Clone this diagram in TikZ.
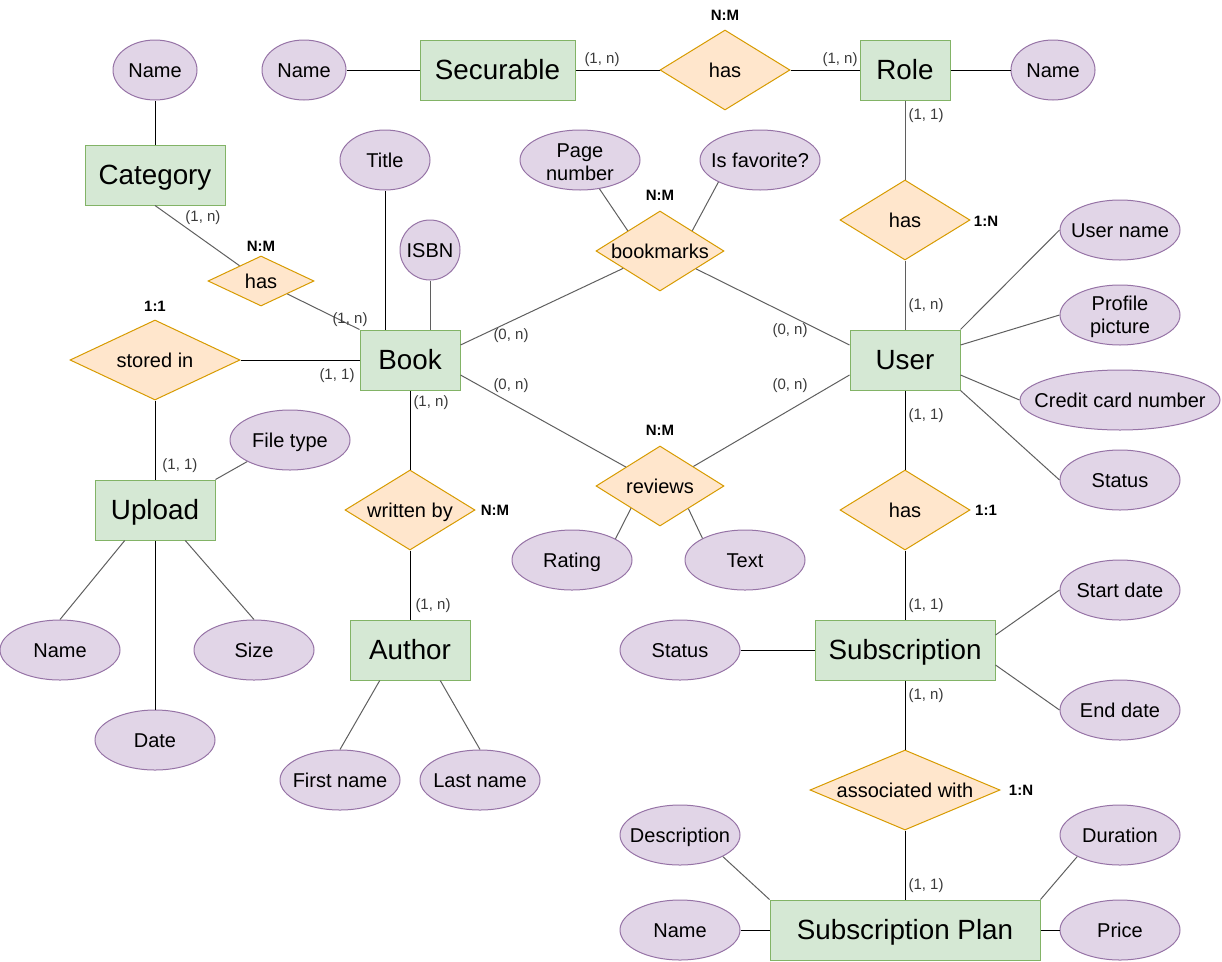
\documentclass[tikz,border=0pt]{standalone}
\usepackage{fontspec}
\setmainfont{Liberation Sans}
\usetikzlibrary{shapes.geometric,calc}
\definecolor{entfill}{HTML}{D5E8D4}
\definecolor{entline}{HTML}{82B366}
\definecolor{relfill}{HTML}{FFE6CC}
\definecolor{relline}{HTML}{D79B00}
\definecolor{attfill}{HTML}{E1D5E7}
\definecolor{attline}{HTML}{9673A6}
\definecolor{greyline}{HTML}{5F5F5F}
\definecolor{cardcol}{HTML}{3A3A3A}
\tikzset{
  ent/.style={rectangle, draw=entline, fill=entfill, line width=1pt, inner sep=0pt,
    minimum height=60pt, font=\fontsize{27.8}{32}\selectfont, text height=19.9pt, text depth=0pt},
  rel/.style={diamond, draw=relline, fill=relfill, line width=1pt, inner sep=0pt,
    minimum height=80pt},
  attr/.style={ellipse, draw=attline, fill=attfill, line width=1pt, inner sep=0pt,
    minimum width=120pt, minimum height=60pt},
  lbl/.style={font=\fontsize{20}{23}\selectfont, inner sep=0pt, text height=14.3pt, text depth=0pt},
  lbltwo/.style={font=\fontsize{20}{23}\selectfont, align=center, inner sep=0pt, yshift=-2pt},
  card/.style={font=\fontsize{15}{18}\selectfont, text=cardcol, inner sep=0pt},
  ratio/.style={font=\bfseries\fontsize{15}{18}\selectfont, inner sep=0pt},
  bl/.style={line width=1pt, black},
  gl/.style={line width=1pt, greyline}
}
\begin{document}
\begin{tikzpicture}[x=1pt,y=-1pt]
\useasboundingbox (0,0) rectangle (1222,961);

% entities
\node[ent, minimum width=155pt] (sec) at (497.5,70) {Securable};
\node[ent, minimum width=90pt] (role) at (905,70) {Role};
\node[ent, minimum width=140pt] (cat) at (155,175) {Category};
\node[ent, minimum width=100pt] (book) at (410,360) {Book};
\node[ent, minimum width=110pt] (user) at (905,360) {User};
\node[ent, minimum width=120pt] (upload) at (155,510) {Upload};
\node[ent, minimum width=120pt] (author) at (410,650) {Author};
\node[ent, minimum width=180pt] (sub) at (905,650) {Subscription};
\node[ent, minimum width=270pt] (plan) at (905,930) {Subscription Plan};

% relationships
\node[rel, minimum width=130pt, label={[lbl]center:has}] (hasSR) at (725,70) {};
\node[rel, minimum width=106pt, minimum height=50pt, label={[lbl]center:has}] (hasCB) at (261,281) {};
\node[rel, minimum width=170pt, label={[lbl]center:stored in}] (stored) at (155,360) {};
\node[rel, minimum width=128pt, label={[lbl]center:bookmarks}] (bm) at (660,251) {};
\node[rel, minimum width=130pt, label={[lbl]center:has}] (hasRU) at (905,220) {};
\node[rel, minimum width=128pt, label={[lbl]center:reviews}] (rev) at (660,486) {};
\node[rel, minimum width=130pt, label={[lbl]center:written by}] (wb) at (410,510) {};
\node[rel, minimum width=130pt, label={[lbl]center:has}] (hasUS) at (905,510) {};
\node[rel, minimum width=190pt, label={[lbl]center:associated with}] (assoc) at (905,790) {};

% attributes
\node[attr, minimum width=84pt, label={[lbl]center:Name}] (nameC) at (155,70) {};
\node[attr, minimum width=84pt, label={[lbl]center:Name}] (nameS) at (304,70) {};
\node[attr, minimum width=84pt, label={[lbl]center:Name}] (nameR) at (1053,70) {};
\node[attr, minimum width=90pt, label={[lbl]center:Title}] (title) at (385,160) {};
\node[attr, minimum width=60pt, label={[lbl]center:ISBN}] (isbn) at (430,250) {};
\node[attr, label={[lbltwo]center:Page\\number}] (pagenum) at (580,160) {};
\node[attr, label={[lbl]center:Is favorite?}] (isfav) at (760,160) {};
\node[attr, label={[lbl]center:User name}] (uname) at (1120,230) {};
\node[attr, label={[lbltwo]center:Profile\\picture}] (profile) at (1120,315) {};
\node[attr, minimum width=200pt, label={[lbl]center:Credit card number}] (cc) at (1120,400) {};
\node[attr, label={[lbl]center:Status}] (statusU) at (1120,480) {};
\node[attr, label={[lbl]center:File type}] (ftype) at (290,440) {};
\node[attr, label={[lbl]center:Name}] (nameU) at (60,650) {};
\node[attr, label={[lbl]center:Size}] (size) at (254,650) {};
\node[attr, label={[lbl]center:Date}] (date) at (155,740) {};
\node[attr, label={[lbl]center:First name}] (first) at (340,780) {};
\node[attr, label={[lbl]center:Last name}] (last) at (480,780) {};
\node[attr, label={[lbl]center:Rating}] (rating) at (572,560) {};
\node[attr, label={[lbl]center:Text}] (text) at (745,560) {};
\node[attr, label={[lbl]center:Start date}] (start) at (1120,590) {};
\node[attr, label={[lbl]center:End date}] (end) at (1120,710) {};
\node[attr, label={[lbl]center:Status}] (statusS) at (680,650) {};
\node[attr, label={[lbl]center:Description}] (desc) at (680,835) {};
\node[attr, label={[lbl]center:Name}] (nameP) at (680,930) {};
\node[attr, label={[lbl]center:Duration}] (dur) at (1120,835) {};
\node[attr, label={[lbl]center:Price}] (price) at (1120,930) {};

% black connectors
\draw[bl] (nameC) -- (cat);
\draw[bl] (nameS) -- (sec);
\draw[bl] (sec) -- (hasSR);
\draw[bl] (hasSR) -- (role);
\draw[bl] (role) -- (nameR);
\draw[bl] (title) -- (title |- book.north);
\draw[bl] (stored) -- (book);
\draw[bl] (stored) -- (upload);
\draw[bl] (book) -- (wb);
\draw[bl] (wb) -- (author);
\draw[bl] (upload) -- (date);
\draw[bl] (user) -- (hasUS);
\draw[bl] (hasUS) -- (sub);
\draw[bl] (statusS) -- (sub);
\draw[bl] (sub) -- (assoc);
\draw[bl] (assoc) -- (plan);
\draw[bl] (nameP) -- (plan);
\draw[bl] (plan) -- (price);

% grey connectors
\draw[gl] (cat.south) -- (hasCB);
\draw[gl] (hasCB) -- (book.north west);
\draw[gl] (isbn) -- (isbn |- book.north);
\draw[gl] ([yshift=15pt]book.east) -- (bm);
\draw[gl] (bm) -- ([yshift=15pt]user.west);
\draw[gl] ([yshift=-15pt]book.east) -- (rev);
\draw[gl] (rev) -- ([yshift=-15pt]user.west);
\draw[gl] (pagenum) -- ($(bm.north)!0.5!(bm.west)$);
\draw[gl] (isfav.208) -- ($(bm.north)!0.5!(bm.east)$);
\draw[gl] ($(rev.west)!0.55!(rev.south)$) -- (rating.26);
\draw[gl] ($(rev.south)!0.44!(rev.east)$) -- (text.153);
\draw[gl] (role) -- (hasRU);
\draw[gl] (hasRU) -- (user);
\draw[gl] (user.north east) -- (uname.west);
\draw[gl] ([yshift=15pt]user.east) -- (profile.west);
\draw[gl] ([yshift=-15pt]user.east) -- (cc.west);
\draw[gl] (user.south east) -- (statusU.west);
\draw[gl] (upload.north east) -- (ftype.south west);
\draw[gl] ($(upload.south west)!0.25!(upload.south east)$) -- (nameU.north);
\draw[gl] ($(upload.south west)!0.75!(upload.south east)$) -- (size.north);
\draw[gl] ($(author.south west)!0.25!(author.south east)$) -- (first.north);
\draw[gl] ($(author.south west)!0.75!(author.south east)$) -- (last.north);
\draw[gl] ([yshift=15pt]sub.east) -- (start.west);
\draw[gl] ([yshift=-15pt]sub.east) -- (end.west);
\draw[gl] (desc.south east) -- (plan.north west);
\draw[gl] (dur.south west) -- (plan.north east);

% cardinalities
\node[card] (c1) at (602,60) {(1, n)};
\node[card] (c2) at (840,60) {(1, n)};
\node[card] (c3) at (926,116) {(1, 1)};
\node[card] (c4) at (926,306) {(1, n)};
\node[card] (c5) at (203,218) {(1, n)};
\node[card] (c6) at (350,320) {(1, n)};
\node[card] (c7) at (337,376) {(1, 1)};
\node[card] (c8) at (511,336) {(0, n)};
\node[card] (c9) at (511,386) {(0, n)};
\node[card] (c10) at (790,331) {(0, n)};
\node[card] (c11) at (790,386) {(0, n)};
\node[card] (c12) at (431,403) {(1, n)};
\node[card] (c13) at (180,466) {(1, 1)};
\node[card] (c14) at (433,606) {(1, n)};
\node[card] (c15) at (926,416) {(1, 1)};
\node[card] (c16) at (926,606) {(1, 1)};
\node[card] (c17) at (926,696) {(1, n)};
\node[card] (c18) at (926,886) {(1, 1)};

% ratios
\node[ratio] (r1) at (725,15) {N:M};
\node[ratio] (r2) at (261,246) {N:M};
\node[ratio] (r3) at (155,306) {1:1};
\node[ratio] (r4) at (660,195) {N:M};
\node[ratio] (r5) at (986,221) {1:N};
\node[ratio] (r6) at (660,430) {N:M};
\node[ratio] (r7) at (495,510) {N:M};
\node[ratio] (r8) at (986,510) {1:1};
\node[ratio] (r9) at (1021,790) {1:N};
\end{tikzpicture}
\end{document}
